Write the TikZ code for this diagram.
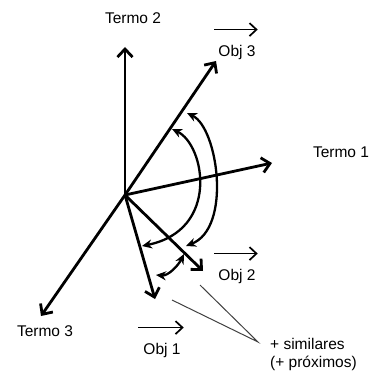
\documentclass[tikz,border=0pt]{standalone}
\usepackage{fontspec}
\setmainfont{Liberation Sans}
\usetikzlibrary{arrows.meta,positioning,calc}

\begin{document}
\begin{tikzpicture}[x=1pt,y=-1pt,
  axis/.style={line width=2.8pt,-{Straight Barb[length=8pt,width=15pt,line width=2.8pt]}},
  vec/.style={line width=1.7pt,-{Straight Barb[length=7pt,width=13pt,line width=1.7pt]}},
  ang/.style={line width=2.3pt,{Stealth[length=10pt,width=9pt]}-{Stealth[length=10pt,width=9pt]}},
  lbl/.style={font=\fontsize{15.5}{18}\selectfont,inner sep=0pt},
  lead/.style={line width=1pt,draw=black!75}]
\useasboundingbox (0,0) rectangle (368,374);
% axes and objects
\coordinate (o) at (125,195);
\coordinate (t1) at (272,163);
\coordinate (t2) at (125,47);
\coordinate (t3) at (41,316);
\coordinate (v1) at (155,299);
\coordinate (v2) at (203,271);
\coordinate (v3) at (216,61);
\draw[axis] (o) -- (t1);
\draw[axis] (o) -- (t2);
\draw[axis] (o) -- (t3);
\draw[axis] (o) -- (v1);
\draw[axis] (o) -- (v2);
\draw[axis] (o) -- (v3);
\node[lbl] (n1) at (341,152) {Termo 1};
\node[lbl] (n2) at (133,18) {Termo 2};
\node[lbl] (n3) at (45,331) {Termo 3};
\node[lbl] (b1) at (162,350) {Obj 1};
\node[lbl] (b2) at (237,276) {Obj 2};
\node[lbl] (b3) at (237,52) {Obj 3};
\draw[vec] ($(b1.north west)+(-5,-15)$) -- ($(b1.north east)+(3,-15)$);
\draw[vec] ($(b2.north west)+(-4,-15)$) -- ($(b2.north east)+(2,-15)$);
\draw[vec] ($(b3.north west)+(-4,-15)$) -- ($(b3.north east)+(2,-15)$);
% angles
\coordinate (a1) at (172,129);
\coordinate (a2) at (142,246);
\coordinate (a3) at (187,113);
\coordinate (a4) at (186,246);
\coordinate (a5) at (156,275);
\coordinate (a6) at (184,254);
\draw[ang] (a1) .. controls (205,145) and (220,230) .. (a2);
\draw[ang] (a3) .. controls (218,128) and (232,228) .. (a4);
\draw[ang] (a5) .. controls (168,276) and (178,266) .. (a6);
% similar ones
\node[lbl,anchor=west,align=left] (sim) at (270,354) {+ similares\\(+ próximos)};
\coordinate (m) at (258,342);
\draw[lead] (172,300) -- (m) -- (200,285);
\end{tikzpicture}
\end{document}
